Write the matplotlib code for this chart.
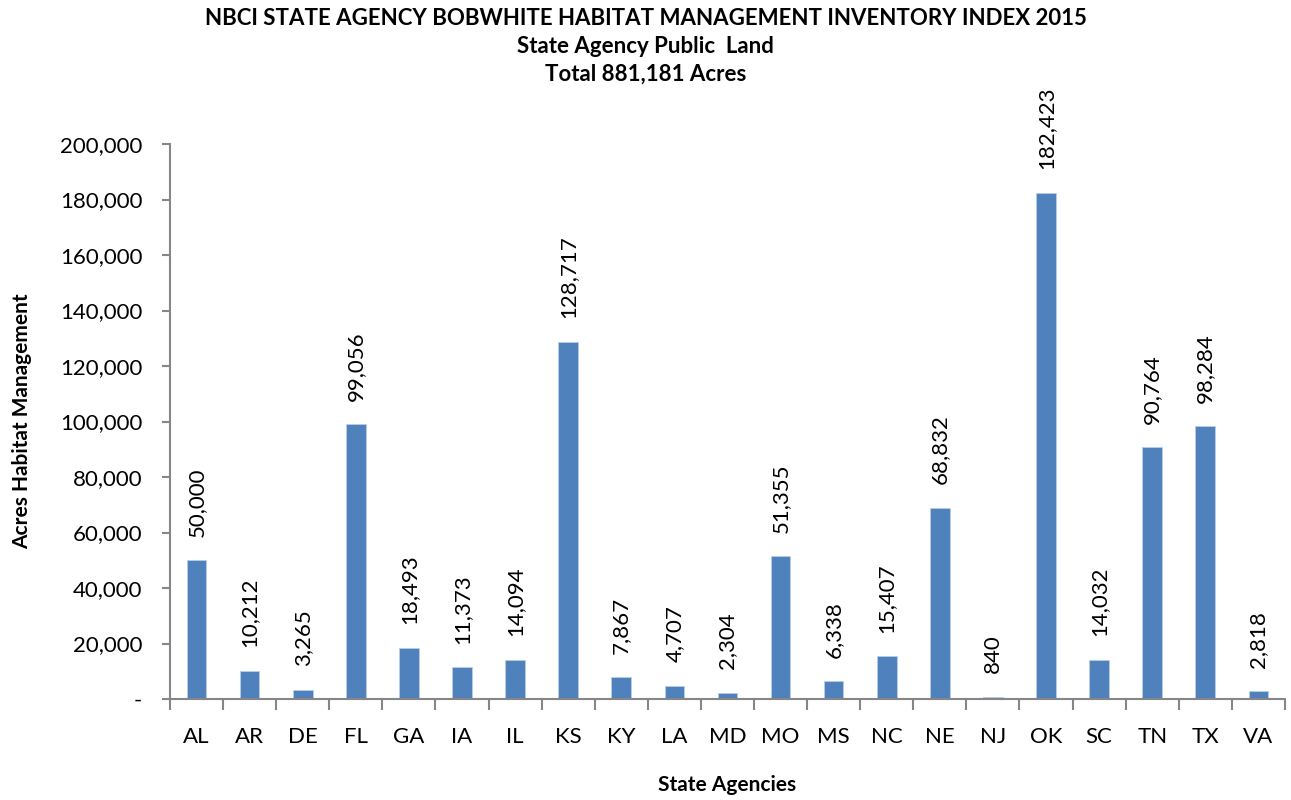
import matplotlib
matplotlib.use("Agg")
import matplotlib.pyplot as plt
from matplotlib.ticker import FuncFormatter, FixedLocator
import numpy as np

plt.rcParams['font.family'] = ['Lato', 'DejaVu Sans']

# State agency acres under habitat management
states = ["AL", "AR", "DE", "FL", "GA", "IA", "IL", "KS", "KY", "LA", "MD",
          "MO", "MS", "NC", "NE", "NJ", "OK", "SC", "TN", "TX", "VA"]
acres = [50000, 10212, 3265, 99056, 18493, 11373, 14094, 128717, 7867, 4707, 2304,
         51355, 6338, 15407, 68832, 840, 182423, 14032, 90764, 98284, 2818]

fig = plt.figure(figsize=(12.91, 8), dpi=100)
ax = fig.add_axes([0.1317, 0.12625, 0.8636, 0.69375])

x = np.arange(len(states))
ax.bar(x, acres, width=0.37, color="#4F81BD", edgecolor="#B9CDE5", linewidth=0.6)

# rotated value labels above the bars
for xi, v in zip(x, acres):
    ax.text(xi, v + 8500, f"{v:,}", rotation=90, ha="center", va="bottom", fontsize=16)

ax.set_xlim(-0.5, len(states) - 0.5)
ax.set_ylim(0, 200000)
ax.set_yticks(np.arange(0, 200001, 20000))
ax.yaxis.set_major_formatter(FuncFormatter(lambda v, p: "-" if v == 0 else f"{int(v):,}"))

ax.set_xticks(x)
ax.set_xticklabels(states)
ax.xaxis.set_minor_locator(FixedLocator(np.arange(-0.5, len(states), 1)))
ax.tick_params(axis="x", which="major", length=0, pad=20, labelsize=16)
ax.tick_params(axis="x", which="minor", length=8, width=1.5, color="#868686")
ax.tick_params(axis="y", length=6, width=1.5, color="#868686", labelsize=16, pad=14)

for side in ["top", "right"]:
    ax.spines[side].set_visible(False)
for side in ["left", "bottom"]:
    ax.spines[side].set_color("#868686")
    ax.spines[side].set_linewidth(1.5)

ax.set_ylabel("Acres Habitat Management", fontsize=15, fontweight="bold", labelpad=20)
ax.set_xlabel("State Agencies", fontsize=15, fontweight="bold", labelpad=20)

fig.text(0.5, 0.99, "NBCI STATE AGENCY BOBWHITE HABITAT MANAGEMENT INVENTORY INDEX 2015\n"
         "State Agency Public  Land\nTotal 881,181 Acres",
         ha="center", va="top", fontsize=16, fontweight="bold", linespacing=1.4)

fig.savefig("out.png", dpi=100)
